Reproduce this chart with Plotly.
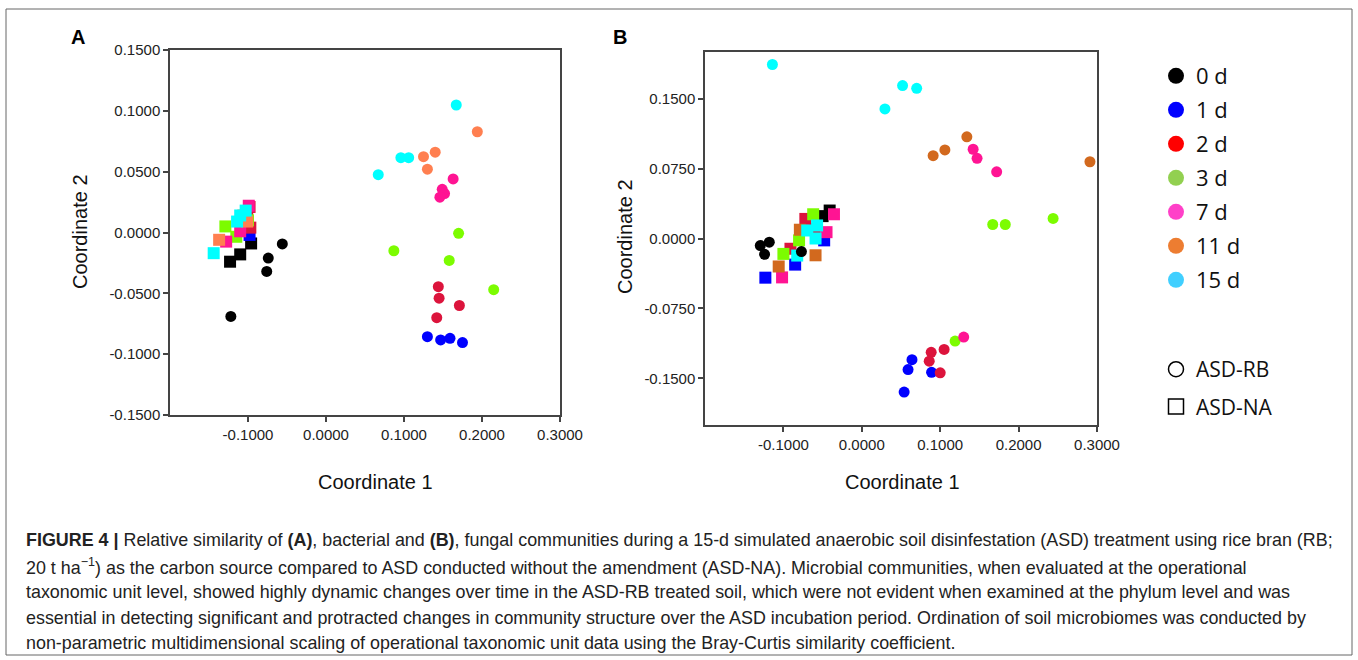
import plotly.graph_objects as go

W, H = 1358, 660

days = ["0 d", "1 d", "2 d", "3 d", "7 d", "11 d", "15 d"]
legend_colors = ["#000000", "#0000FF", "#FF0000", "#92D050", "#FF40C8", "#ED7D31", "#40CFFF"]
colors_a = ["#000000", "#0000FF", "#DC143C", "#7CFC00", "#FF1493", "#FF7F50", "#00FFFF"]
colors_b = ["#000000", "#0000FF", "#DC143C", "#7CFC00", "#FF1493", "#D2691E", "#00FFFF"]

# Panel A (bacterial) - ASD-RB circles
a_rb_day = ["0 d"] * 4 + ["1 d"] * 4 + ["2 d"] * 4 + ["3 d"] * 4 + ["7 d"] * 4 + ["11 d"] * 4 + ["15 d"] * 4
a_rb_x = [-0.056, -0.074, -0.076, -0.122,
          0.130, 0.147, 0.159, 0.175,
          0.144, 0.145, 0.171, 0.142,
          0.170, 0.087, 0.158, 0.215,
          0.163, 0.149, 0.152, 0.146,
          0.194, 0.140, 0.125, 0.130,
          0.167, 0.096, 0.106, 0.067]
a_rb_y = [-0.0094, -0.021, -0.032, -0.069,
          -0.0856, -0.0883, -0.087, -0.0905,
          -0.0445, -0.054, -0.060, -0.070,
          -0.0007, -0.015, -0.023, -0.047,
          0.044, 0.0355, 0.032, 0.029,
          0.0828, 0.066, 0.0623, 0.052,
          0.1048, 0.0615, 0.0615, 0.0475]

# Panel A - ASD-NA squares
a_na_day = ["0 d"] * 3 + ["1 d"] * 2 + ["2 d"] * 3 + ["3 d"] * 3 + ["7 d"] * 3 + ["11 d"] * 3 + ["15 d"] * 4
a_na_x = [-0.096, -0.110, -0.123,
          -0.098, -0.100,
          -0.098, -0.097, -0.101,
          -0.129, -0.115, -0.100,
          -0.128, -0.110, -0.099,
          -0.137, -0.101, -0.106,
          -0.144, -0.114, -0.103, -0.110]
a_na_y = [-0.009, -0.018, -0.024,
          -0.002, 0.002,
          0.021, 0.004, 0.016,
          0.005, -0.0035, 0.010,
          -0.0075, 0.001, 0.022,
          -0.006, 0.009, 0.014,
          -0.017, 0.009, 0.018, 0.014]

# Panel B (fungal) - ASD-RB circles
b_rb_day = a_rb_day
b_rb_x = [-0.1295, -0.118, -0.124, -0.077,
          0.064, 0.059, 0.089, 0.054,
          0.105, 0.0885, 0.086, 0.100,
          0.119, 0.167, 0.183, 0.244,
          0.130, 0.142, 0.147, 0.172,
          0.134, 0.106, 0.091, 0.291,
          0.052, 0.070, 0.0295, -0.114]
b_rb_y = [-0.0076, -0.004, -0.017, -0.014,
          -0.130, -0.1406, -0.1435, -0.1647,
          -0.119, -0.122, -0.1316, -0.144,
          -0.110, 0.015, 0.015, 0.0215,
          -0.1057, 0.0957, 0.086, 0.0715,
          0.109, 0.095, 0.0888, 0.0823,
          0.164, 0.161, 0.139, 0.1866]

# Panel B - ASD-NA squares
b_na_day = ["0 d"] * 2 + ["1 d"] * 3 + ["2 d"] * 3 + ["3 d"] * 3 + ["7 d"] * 3 + ["11 d"] * 3 + ["15 d"] * 4
b_na_x = [-0.041, -0.050,
          -0.123, -0.085, -0.048,
          -0.072, -0.091, -0.060,
          -0.100, -0.080, -0.062,
          -0.1017, -0.0355, -0.045,
          -0.106, -0.059, -0.079,
          -0.0824, -0.0696, -0.057, -0.059]
b_na_y = [0.030, 0.024,
          -0.042, -0.028, -0.002,
          0.021, -0.011, 0.010,
          -0.0165, -0.002, 0.026,
          -0.0417, 0.026, 0.0068,
          -0.030, -0.018, 0.0094,
          -0.0183, 0.0086, 0.014, 0.0]

x_ticks = [-0.1, 0.0, 0.1, 0.2, 0.3]
a_y_ticks = [-0.15, -0.10, -0.05, 0.0, 0.05, 0.10, 0.15]
b_y_ticks = [-0.15, -0.075, 0.0, 0.075, 0.15]


def fmt(vals):
    return ["%.4f" % v for v in vals]


FONT = "Liberation Sans, Arial, sans-serif"

fig = go.Figure()


def add_points(days_list, xs, ys, colors, symbol, size, xa, ya):
    for d, c in zip(days, colors):
        px = [x for dd, x in zip(days_list, xs) if dd == d]
        py = [y for dd, y in zip(days_list, ys) if dd == d]
        if not px:
            continue
        fig.add_trace(go.Scatter(x=px, y=py, mode="markers", xaxis=xa, yaxis=ya,
                                 marker=dict(symbol=symbol, size=size, color=c, line=dict(width=0)),
                                 showlegend=False, hoverinfo="x+y"))


add_points(a_na_day, a_na_x, a_na_y, colors_a, "square", 12, "x", "y")
add_points(a_rb_day, a_rb_x, a_rb_y, colors_a, "circle", 11, "x", "y")
add_points(b_na_day, b_na_x, b_na_y, colors_b, "square", 12, "x2", "y2")
add_points(b_rb_day, b_rb_x, b_rb_y, colors_b, "circle", 11, "x2", "y2")

# legend entries
for i, (d, c) in enumerate(zip(days, legend_colors)):
    fig.add_trace(go.Scatter(x=[None], y=[None], mode="markers", name=d,
                             marker=dict(symbol="circle", size=16, color=c),
                             legend="legend", legendgroup="g%d" % i, showlegend=True))
for i, (nm, sym) in enumerate([("ASD-RB", "circle-open"), ("ASD-NA", "square-open")]):
    fig.add_trace(go.Scatter(x=[None], y=[None], mode="markers", name=nm,
                             marker=dict(symbol=sym, size=15, color="#000000", line=dict(width=1.5)),
                             legend="legend2", legendgroup="t%d" % i, showlegend=True))

axis_common = dict(showline=True, linecolor="#444444", linewidth=1.5, mirror=True,
                   ticks="outside", ticklen=5, tickwidth=1.5, tickcolor="#444444",
                   showgrid=False, zeroline=False, automargin=False,
                   tickfont=dict(family=FONT, size=15, color="#222222"))

fig.update_layout(
    template="none",
    width=W, height=H, margin=dict(l=0, r=0, t=0, b=0, pad=0, autoexpand=False),
    paper_bgcolor="white", plot_bgcolor="white",
    xaxis=dict(domain=[170 / W, 560 / W], range=[-0.2, 0.3], tickvals=x_ticks, ticktext=fmt(x_ticks),
               anchor="y", **axis_common),
    yaxis=dict(domain=[1 - 415 / H, 1 - 50 / H], range=[-0.15, 0.15], tickvals=a_y_ticks,
               ticktext=fmt(a_y_ticks), anchor="x", **axis_common),
    xaxis2=dict(domain=[705 / W, 1097 / W], range=[-0.2, 0.3], tickvals=x_ticks, ticktext=fmt(x_ticks),
                anchor="y2", **axis_common),
    yaxis2=dict(domain=[1 - 425 / H, 1 - 52 / H], range=[-0.2, 0.2], tickvals=b_y_ticks,
                ticktext=fmt(b_y_ticks), anchor="x2", **axis_common),
    legend=dict(x=1156 / W, y=1 - 55 / H, xanchor="left", yanchor="top",
                font=dict(family="Open Sans, sans-serif", size=22, color="#111111"),
                tracegroupgap=2.4, bgcolor="rgba(0,0,0,0)", itemclick=False, borderwidth=0),
    legend2=dict(x=1156 / W, y=1 - 349 / H, xanchor="left", yanchor="top",
                 font=dict(family="Open Sans, sans-serif", size=21, color="#111111"),
                 tracegroupgap=7, bgcolor="rgba(0,0,0,0)", itemclick=False, borderwidth=0),
    showlegend=True,
)

ann = []
ann.append(dict(text="<b>A</b>", x=78 / W, y=1 - 37 / H))
ann.append(dict(text="<b>B</b>", x=620 / W, y=1 - 37 / H))
for a in ann:
    a.update(font=dict(family=FONT, size=20, color="#000"))
for xc, yc in [(80, 232), (625, 237)]:
    ann.append(dict(text="Coordinate 2", x=xc / W, y=1 - yc / H, textangle=-90,
                    font=dict(family=FONT, size=20, color="#111")))
for xc in [375, 902]:
    ann.append(dict(text="Coordinate 1", x=xc / W, y=1 - 482 / H,
                    font=dict(family=FONT, size=20, color="#111")))
for a in ann:
    a.update(xref="paper", yref="paper", xanchor="center", yanchor="middle", showarrow=False)

caption_lines = [
    "<b>FIGURE 4 |</b> Relative similarity of <b>(A)</b>, bacterial and <b>(B)</b>, fungal communities during a 15-d simulated anaerobic soil disinfestation (ASD) treatment using rice bran (RB;",
    "20 t ha<sup>−1</sup>) as the carbon source compared to ASD conducted without the amendment (ASD-NA). Microbial communities, when evaluated at the operational",
    "taxonomic unit level, showed highly dynamic changes over time in the ASD-RB treated soil, which were not evident when examined at the phylum level and was",
    "essential in detecting significant and protracted changes in community structure over the ASD incubation period. Ordination of soil microbiomes was conducted by",
    "non-parametric multidimensional scaling of operational taxonomic unit data using the Bray-Curtis similarity coefficient.",
]
cap_y = [540, 566, 592, 618, 643]
for line, yc in zip(caption_lines, cap_y):
    ann.append(dict(text=line, x=24 / W, y=1 - yc / H, xref="paper", yref="paper", xanchor="left",
                    yanchor="middle", showarrow=False, align="left",
                    font=dict(family=FONT, size=17.9, color="#222")))
fig.update_layout(annotations=ann)

fig.add_shape(type="rect", xref="paper", yref="paper", x0=6 / W, x1=1352 / W, y0=1 - 655 / H, y1=1 - 9 / H,
              line=dict(color="#666666", width=1), fillcolor="rgba(0,0,0,0)", layer="below")

fig.write_html("out.html")
